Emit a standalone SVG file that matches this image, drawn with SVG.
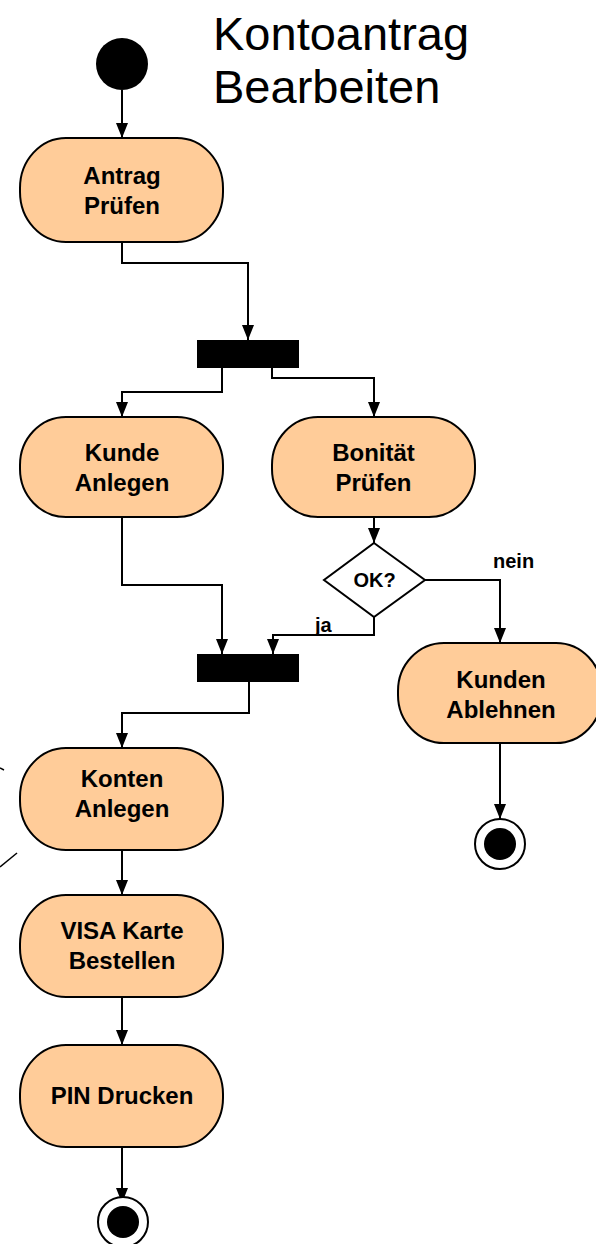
<svg xmlns="http://www.w3.org/2000/svg" width="596" height="1244" viewBox="0 0 596 1244">
<defs>
<marker id="ah" markerWidth="15" markerHeight="12" refX="15" refY="6" orient="auto" markerUnits="userSpaceOnUse" viewBox="0 0 15 12">
<path d="M0,0 L15,6 L0,12 Z" fill="#000"/>
</marker>
</defs>
<style>
.node{fill:#FFCC99;stroke:#000;stroke-width:2}
.lbl{font-family:"Liberation Sans",Arial,sans-serif;font-weight:bold;font-size:24px;text-anchor:middle;fill:#000}
.sm{font-family:"Liberation Sans",Arial,sans-serif;font-weight:bold;font-size:20px;fill:#000}
.title{font-family:"Liberation Sans",Arial,sans-serif;font-size:47px;fill:#000}
.c{fill:none;stroke:#000;stroke-width:2}
.bar{fill:#000}
</style>
<rect width="596" height="1244" fill="#fff"/>
<g id="title">
<text class="title" x="213" y="50">Kontoantrag</text>
<text class="title" x="213" y="103">Bearbeiten</text>
</g>
<g id="connectors">
<path class="c" d="M122,90 V138" marker-end="url(#ah)"/>
<path class="c" d="M122,242 V263 H248 V340" marker-end="url(#ah)"/>
<path class="c" d="M222,368 V392 H122 V417" marker-end="url(#ah)"/>
<path class="c" d="M272,368 V378 H374 V417" marker-end="url(#ah)"/>
<path class="c" d="M374,517 V543" marker-end="url(#ah)"/>
<path class="c" d="M122,517 V585 H222 V654" marker-end="url(#ah)"/>
<path class="c" d="M374,617 V635 H273 V654" marker-end="url(#ah)"/>
<path class="c" d="M425,580 H500 V643" marker-end="url(#ah)"/>
<path class="c" d="M249,682 V713 H122 V748" marker-end="url(#ah)"/>
<path class="c" d="M500,743 V819" marker-end="url(#ah)"/>
<path class="c" d="M122,850 V895" marker-end="url(#ah)"/>
<path class="c" d="M122,997 V1045" marker-end="url(#ah)"/>
<path class="c" d="M122,1147 V1203" marker-end="url(#ah)"/>
<text class="sm" x="315" y="632">ja</text>
<text class="sm" x="493" y="568">nein</text>
</g>
<g id="start"><circle cx="122" cy="64" r="26" fill="#000"/></g>
<g id="antrag">
<rect class="node" x="20" y="138" width="203" height="104" rx="46" ry="50"/>
<text class="lbl" x="122" y="184">Antrag</text>
<text class="lbl" x="122" y="214">Prüfen</text>
</g>
<g id="fork"><rect class="bar" x="197" y="340" width="102" height="28"/></g>
<g id="kunde">
<rect class="node" x="20" y="417" width="203" height="100" rx="46" ry="48"/>
<text class="lbl" x="122" y="461">Kunde</text>
<text class="lbl" x="122" y="491">Anlegen</text>
</g>
<g id="bonitaet">
<rect class="node" x="272" y="417" width="203" height="100" rx="46" ry="48"/>
<text class="lbl" x="373.5" y="461">Bonität</text>
<text class="lbl" x="373.5" y="491">Prüfen</text>
</g>
<g id="ok">
<path d="M374,543 L425,580 L374,617 L324,580 Z" fill="#fff" stroke="#000" stroke-width="2"/>
<text class="sm" x="374.5" y="587" text-anchor="middle">OK?</text>
</g>
<g id="join"><rect class="bar" x="197" y="654" width="102" height="28"/></g>
<g id="ablehnen">
<rect class="node" x="398" y="643" width="204" height="100" rx="46" ry="48"/>
<text class="lbl" x="501" y="688">Kunden</text>
<text class="lbl" x="501" y="718">Ablehnen</text>
</g>
<g id="end1">
<circle cx="500" cy="844" r="25" fill="#fff" stroke="#000" stroke-width="2"/>
<circle cx="500" cy="844" r="16" fill="#000"/>
</g>
<g id="konten">
<rect class="node" x="20" y="748" width="203" height="102" rx="46" ry="49"/>
<text class="lbl" x="122" y="787">Konten</text>
<text class="lbl" x="122" y="817">Anlegen</text>
</g>
<g id="note">
<line x1="0" y1="768" x2="4" y2="770" stroke="#000" stroke-width="1.5"/>
<line x1="0" y1="867" x2="17" y2="853" stroke="#000" stroke-width="1.5"/>
</g>
<g id="visa">
<rect class="node" x="20" y="895" width="203" height="102" rx="46" ry="49"/>
<text class="lbl" x="122" y="939">VISA Karte</text>
<text class="lbl" x="122" y="969">Bestellen</text>
</g>
<g id="pin">
<rect class="node" x="20" y="1045" width="203" height="102" rx="46" ry="49"/>
<text class="lbl" x="122" y="1104">PIN Drucken</text>
</g>
<g id="end2">
<circle cx="123" cy="1222" r="25" fill="#fff" stroke="#000" stroke-width="2"/>
<circle cx="123" cy="1222" r="16" fill="#000"/>
</g>
</svg>
